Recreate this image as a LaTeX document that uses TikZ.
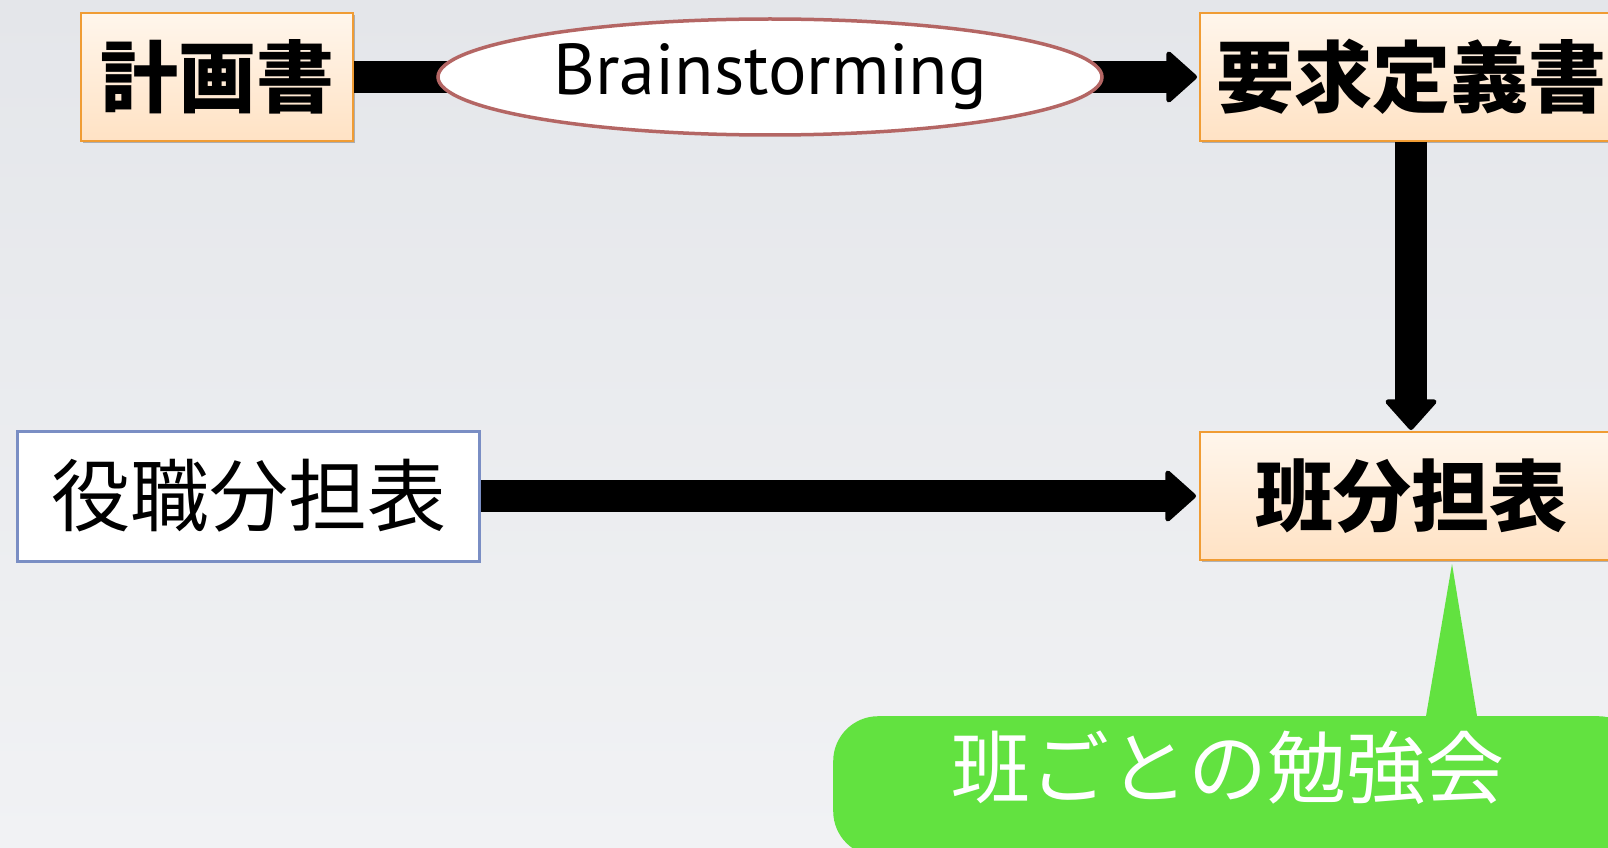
\documentclass[tikz,border=0pt]{standalone}
\usepackage{fontspec}
\setmainfont{PT Sans}
\newfontfamily\cjk{Noto Sans CJK JP}
\usetikzlibrary{arrows.meta,shapes.geometric,shadows}
\definecolor{bgtop}{RGB}{228,230,234}
\definecolor{bgbot}{RGB}{241,242,244}
\definecolor{boxtop}{RGB}{255,246,236}
\definecolor{boxbot}{RGB}{255,226,196}
\definecolor{boxline}{RGB}{240,156,52}
\definecolor{ellline}{RGB}{180,102,100}
\definecolor{blueline}{RGB}{122,142,196}
\definecolor{calloutgreen}{RGB}{98,226,64}
\begin{document}
\begin{tikzpicture}[x=1pt,y=-1pt,
  docbox/.style={draw=boxline, line width=2pt, top color=boxtop, bottom color=boxbot,
    minimum height=128pt, inner sep=0pt, font=\cjk\bfseries\fontsize{78}{78}\selectfont,
    drop shadow={shadow xshift=1.5pt, shadow yshift=-2pt, opacity=0.25, fill=black}},
  plainbox/.style={draw=blueline, fill=white, line width=3pt, minimum height=130pt,
    inner sep=0pt, font=\cjk\fontsize{79}{79}\selectfont},
  bigarrow/.style={line width=32pt, -{Triangle[length=32pt, width=56pt, line width=5pt, round]}},
  bubble/.style={ellipse, draw=ellline, line width=3.5pt, fill=white, inner sep=0pt,
    minimum width=664pt, minimum height=116pt, font=\fontsize{72}{72}\selectfont},
  calloutbox/.style={fill=calloutgreen, rounded corners=45pt, inner sep=0pt,
    minimum width=810pt, minimum height=140pt, anchor=north west},
  callouttext/.style={text=white, font=\cjk\fontsize{79}{79}\selectfont, inner sep=0pt}
]
\useasboundingbox (0,0) rectangle (1608,848);
\fill[top color=bgtop, bottom color=bgbot] (0,0) rectangle (1608,848);

\node[docbox, minimum width=272pt] (keikaku) at (217,77) {計画書};
\node[docbox, minimum width=422pt] (youkyu) at (1411,77) {要求定義書};
\node[docbox, minimum width=422pt] (han) at (1411,496) {班分担表};
\node[plainbox, minimum width=462pt] (yaku) at (248.5,496) {役職分担表};

\draw[bigarrow, shorten >=2pt] (keikaku.east) -- (youkyu.west);
\node[bubble] (brain) at (770,77) {Brainstorming};
\draw[bigarrow, shorten >=1pt] (youkyu.south) -- (han.north);
\draw[bigarrow, shorten >=3pt] (yaku.east) -- (han.west);

\node[calloutbox] (study) at (833,716) {};
\coordinate (tip) at ([xshift=41pt, yshift=-3pt]han.south);
\fill[calloutgreen] (tip) -- ([xshift=26pt, yshift=-6pt]tip |- study.north)
  -- ([xshift=-27pt, yshift=-6pt]tip |- study.north) -- cycle;
\node[callouttext] (studytext) at (1228,768) {班ごとの勉強会};
\end{tikzpicture}
\end{document}
